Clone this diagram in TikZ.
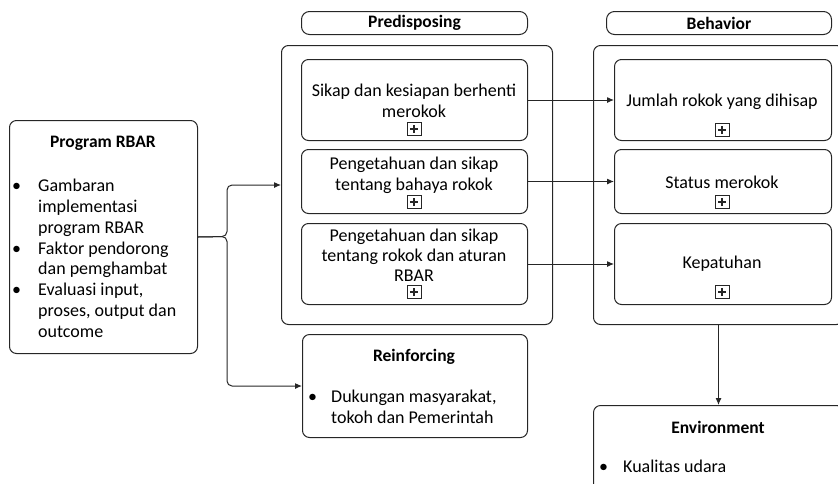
\documentclass[tikz,border=0pt]{standalone}
\usepackage{fontspec}
\setmainfont{Carlito}
\usetikzlibrary{arrows.meta}
\begin{document}
\begin{tikzpicture}[x=1pt,y=-1pt,
  frame/.style={draw=black!85, line width=1pt, rounded corners=7pt, inner sep=0pt, anchor=north west},
  header/.style={frame, rounded corners=8pt},
  txt/.style={font=\fontsize{18}{21}\selectfont, inner sep=0pt, align=center},
  lst/.style={font=\fontsize{18}{20.8}\selectfont, inner sep=0pt, align=left, anchor=north west},
  ttl/.style={font=\fontsize{17.5}{21}\selectfont\bfseries, inner sep=0pt},
  plusbox/.style={draw=black!85, line width=0.8pt, minimum width=14pt, minimum height=13pt, inner sep=0pt,
    path picture={\draw[line width=1.5pt]
      ([xshift=-4pt]path picture bounding box.center) -- ([xshift=4pt]path picture bounding box.center)
      ([yshift=-4pt]path picture bounding box.center) -- ([yshift=4pt]path picture bounding box.center);}},
  conn/.style={draw=black!85, line width=1pt},
  arr/.style={conn, -{Latex[length=7pt,width=6pt]}}
]
\useasboundingbox (0,0) rectangle (838,483);
\clip (0,0) rectangle (838,483);

% ---- Program RBAR ----
\node[frame, minimum width=188pt, minimum height=233pt] (prog) at (9,120) {};
\node[ttl] (progT) at (103,143) {Program RBAR};
\node[lst] (progL) at (12,179) {%
  \makebox[26pt][l]{\textbullet}Gambaran\\
  \hspace*{26pt}implementasi\\
  \hspace*{26pt}program RBAR\\
  \makebox[26pt][l]{\textbullet}Faktor pendorong\\
  \hspace*{26pt}dan pemghambat\\
  \makebox[26pt][l]{\textbullet}Evaluasi input,\\
  \hspace*{26pt}proses, output dan\\
  \hspace*{26pt}outcome};

% ---- Predisposing ----
\node[header, minimum width=226pt, minimum height=23pt] (predH) at (301,11) {};
\node[ttl] (predHT) at (predH.center) {Predisposing};
\node[frame, minimum width=271pt, minimum height=279pt] (pred) at (281,45) {};
\node[frame, minimum width=226pt, minimum height=81pt] (p1) at (301,59) {};
\node[frame, minimum width=226pt, minimum height=64pt] (p2) at (301,149) {};
\node[frame, minimum width=226pt, minimum height=81pt] (p3) at (301,223) {};
\node[txt] (p1T) at (414,101) {Sikap dan kesiapan berhenti\\merokok};
\node[txt] (p2T) at (414,175) {Pengetahuan dan sikap\\tentang bahaya rokok};
\node[txt, font=\fontsize{18}{20}\selectfont] (p3T) at (414,255) {Pengetahuan dan sikap\\tentang rokok dan aturan\\RBAR};
\node[plusbox] (p1P) at (414,129) {};
\node[plusbox] (p2P) at (414,202) {};
\node[plusbox] (p3P) at (414,292) {};

% ---- Behavior ----
\node[header, minimum width=225pt, minimum height=23pt] (behH) at (606,11) {};
\node[ttl] (behHT) at (behH.center) {Behavior};
\node[frame, minimum width=250pt, minimum height=279pt] (beh) at (593,45) {};
\node[frame, minimum width=217pt, minimum height=81pt] (b1) at (614,59) {};
\node[frame, minimum width=217pt, minimum height=64pt] (b2) at (614,149) {};
\node[frame, minimum width=217pt, minimum height=81pt] (b3) at (614,223) {};
\node[txt] (b1T) at (722,102) {Jumlah rokok yang dihisap};
\node[txt] (b2T) at (722,182) {Status merokok};
\node[txt] (b3T) at (722,264) {Kepatuhan};
\node[plusbox] (b1P) at (722,130) {};
\node[plusbox] (b2P) at (722,202) {};
\node[plusbox] (b3P) at (722,292) {};

% ---- Reinforcing ----
\node[frame, minimum width=225pt, minimum height=103pt] (reinf) at (302,334) {};
\node[ttl] (reinfT) at (414,357) {Reinforcing};
\node[lst] (reinfL) at (308,390) {%
  \makebox[23pt][l]{\textbullet}Dukungan masyarakat,\\
  \hspace*{23pt}tokoh dan Pemerintah};

% ---- Environment ----
\node[frame, minimum width=250pt, minimum height=130pt] (env) at (593,405) {};
\node[ttl] (envT) at (718,427) {Environment};
\node[lst] (envL) at (599,460) {\makebox[24pt][l]{\textbullet}Kualitas udara};

% ---- connectors ----
\coordinate (split) at (227,236.5);
\draw[arr, rounded corners=5pt] (prog.east) -- (split) |- (pred.west);
\draw[arr, rounded corners=5pt] (prog.east) -- (split) |- (reinf.west);
\draw[arr] (p1.east) -- (b1.west);
\draw[arr] (p2.east) -- (b2.west);
\draw[arr] (p3.east) -- (b3.west);
\draw[arr] (beh.south) -- (env.north);
\end{tikzpicture}
\end{document}
